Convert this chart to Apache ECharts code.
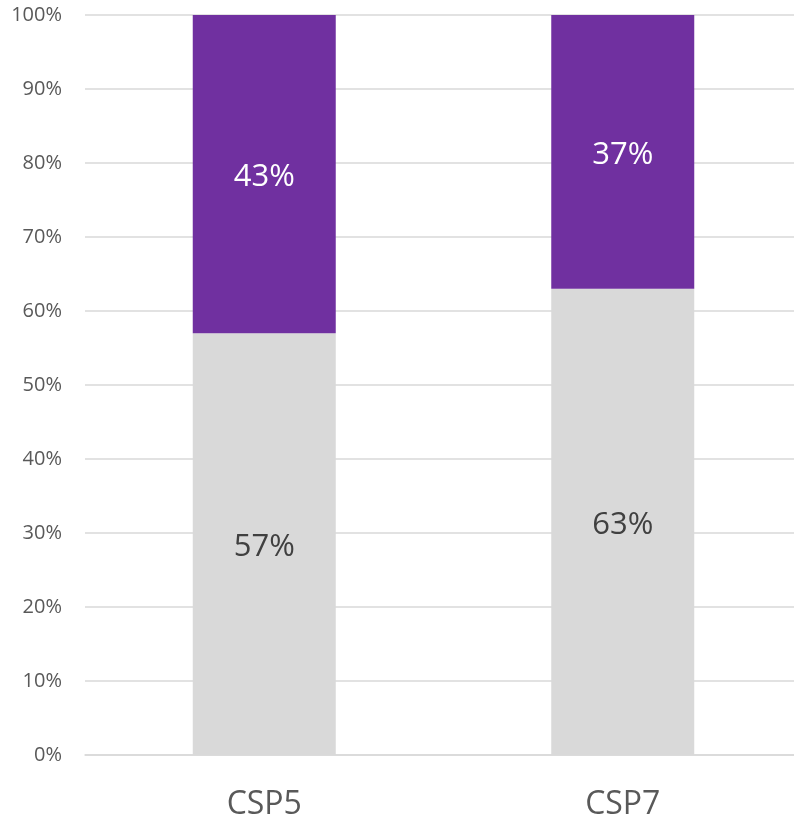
<!DOCTYPE html>
<html>
<head>
<meta charset="utf-8">
<script src="https://cdn.jsdelivr.net/npm/echarts@6/dist/echarts.min.js"></script>
<style>
  html, body { margin: 0; padding: 0; background: #fff; overflow: hidden; }
  /* plot area runs a little past the right edge, as in the source */
  #chart { width: 802px; height: 822px; }
</style>
</head>
<body>
<div id="chart"></div>
<script>
// data
var categories = ['CSP5', 'CSP7'];
var lowerShare = [57, 63];   // grey part
var upperShare = [43, 37];   // purple part
var yTicks = [0, 10, 20, 30, 40, 50, 60, 70, 80, 90, 100];

var chart = echarts.init(document.getElementById('chart'));

var font = '"Open Sans", sans-serif';

chart.setOption({
  animation: false,
  grid: {
    top: 15,
    bottom: 67,
    left: 85,
    right: 0
  },
  xAxis: {
    type: 'category',
    data: categories,
    axisLine: { show: true, lineStyle: { color: '#d9d9d9', width: 1.5 } },
    axisTick: { show: false },
    axisLabel: {
      color: '#595959',
      fontSize: 32,
      fontFamily: font,
      margin: 34
    }
  },
  yAxis: {
    type: 'value',
    min: yTicks[0],
    max: yTicks[yTicks.length - 1],
    interval: 10,
    axisLine: { show: false },
    axisTick: { show: false },
    splitLine: { lineStyle: { color: '#d9d9d9', width: 1.5 } },
    axisLabel: {
      color: '#595959',
      fontSize: 20,
      fontFamily: font,
      margin: 23,
      formatter: '{value}%'
    }
  },
  series: [
    {
      name: 'lower',
      type: 'bar',
      stack: 'share',
      barWidth: 143,
      data: lowerShare,
      itemStyle: { color: '#d9d9d9' },
      label: {
        show: true,
        position: 'inside',
        offset: [0, 3],
        color: '#404040',
        fontSize: 31,
        fontFamily: font,
        formatter: '{c}%'
      }
    },
    {
      name: 'upper',
      type: 'bar',
      stack: 'share',
      barWidth: 143,
      data: upperShare,
      itemStyle: { color: '#7030a0' },
      label: {
        show: true,
        position: 'inside',
        offset: [0, 3],
        color: '#ffffff',
        fontSize: 31,
        fontFamily: font,
        formatter: '{c}%'
      }
    }
  ]
});
</script>
</body>
</html>
